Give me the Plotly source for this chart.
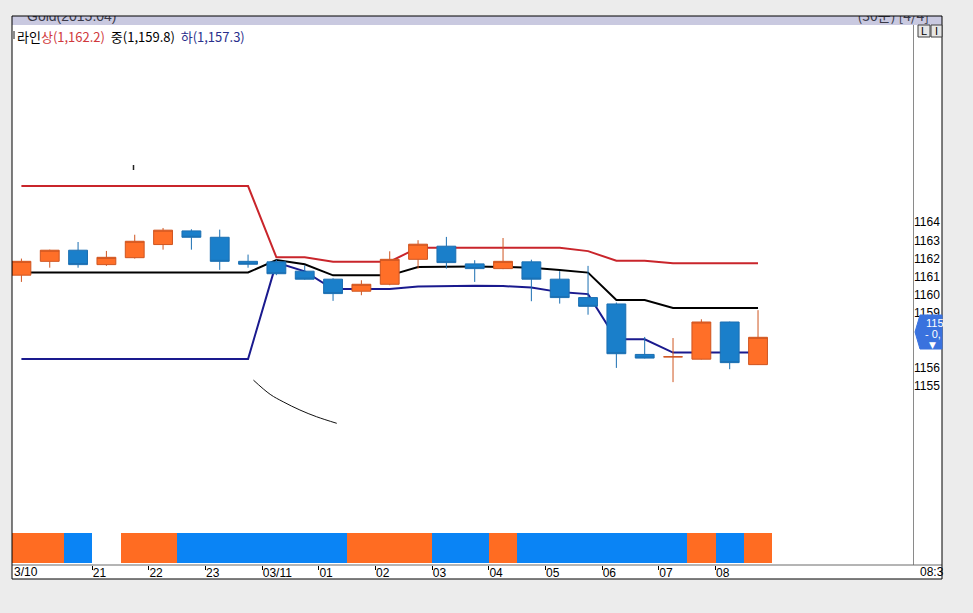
import plotly.graph_objects as go

# ---------------- data (30-minute bars, 2015-03-10 19:30 -> 2015-03-11 08:30) ----------------
bar_index = list(range(27))
open_ = [1161.55, 1162.31, 1162.92, 1162.13, 1162.51, 1163.23, 1163.98, 1163.63, 1162.31,
         1162.28, 1161.77, 1161.33, 1160.67, 1161.05, 1162.42, 1163.14, 1162.17, 1161.91,
         1162.28, 1161.33, 1160.32, 1159.97, 1157.20, 1157.07, 1156.94, 1158.98, 1156.64]
high = [1162.46, 1162.95, 1163.37, 1162.88, 1163.77, 1164.14, 1164.07, 1164.05, 1162.68,
        1162.40, 1162.09, 1161.38, 1161.27, 1162.86, 1163.47, 1163.65, 1162.37, 1163.59,
        1162.40, 1161.77, 1162.06, 1160.05, 1158.16, 1158.10, 1159.13, 1159.00, 1159.63]
low = [1161.18, 1161.96, 1161.96, 1162.06, 1162.46, 1162.95, 1162.95, 1161.84, 1161.96,
       1161.55, 1161.30, 1160.14, 1160.45, 1161.00, 1161.91, 1161.91, 1161.18, 1161.88,
       1160.12, 1159.99, 1159.38, 1156.46, 1156.98, 1155.68, 1156.92, 1156.39, 1156.62]
close = [1162.31, 1162.92, 1162.13, 1162.53, 1163.41, 1164.02, 1163.63, 1162.31, 1162.15,
         1161.63, 1161.33, 1160.54, 1161.05, 1162.42, 1163.25, 1162.24, 1161.91, 1162.31,
         1161.33, 1160.32, 1159.84, 1157.24, 1157.00, 1157.07, 1158.98, 1156.75, 1158.14]

upper = [1166.44] * 9 + [1162.53, 1162.53, 1162.29, 1162.29, 1162.29,
                         1163.06, 1163.06, 1163.06, 1163.06, 1163.06, 1163.06,
                         1162.87, 1162.34, 1162.34, 1162.2, 1162.2, 1162.2, 1162.2]
middle = [1161.70] * 9 + [1162.38, 1162.15, 1161.54, 1161.54, 1161.54,
                          1162.00, 1162.02, 1162.02, 1162.00, 1161.96, 1161.84,
                          1161.69, 1160.19, 1160.19, 1159.75, 1159.75, 1159.75, 1159.75]
lower = [1156.95] * 9 + [1162.24, 1161.76, 1160.79, 1160.79, 1160.79,
                         1160.93, 1160.97, 1160.97, 1160.95, 1160.87, 1160.62,
                         1160.51, 1158.03, 1158.03, 1157.3, 1157.3, 1157.3, 1157.3]

# bottom signal pane: 1 = orange, -1 = blue, 0 = none
signal = [1, 1, -1, 0, 1, 1, -1, -1, -1, -1, -1, -1, 1, 1, 1, -1, -1, 1,
          -1, -1, -1, -1, -1, -1, 1, -1, 1]

tick_pos = [2.5, 4.5, 6.5, 8.5, 10.5, 12.5, 14.5, 16.5, 18.5, 20.5, 22.5, 24.5]
tick_text = ["21", "22", "23", "03/11", "01", "02", "03", "04", "05", "06", "07", "08"]
price_ticks = [1155, 1156, 1159, 1160, 1161, 1162, 1163, 1164]

# hand-drawn trend curve on the chart
drawing_x = [8.19, 8.78, 9.24, 9.83, 10.42, 11.13]
drawing_y = [1155.79, 1155.01, 1154.60, 1154.15, 1153.78, 1153.42]

legend_upper = "1,162.2"
legend_mid = "1,159.8"
legend_lower = "1,157.3"

# ---------------- styling ----------------
ORANGE = "#ff6c22"
BLUE = "#0a84f5"
C_UP_FILL, C_UP_LINE = "#ff6f28", "#cf5520"
C_DN_FILL, C_DN_LINE = "#1a7fca", "#1b6fb2"
PAGE_BG = "#ececec"

W, H = 973, 613
ML, MR, MT, MB = 12, 31, 16, 48
PW, PH = W - ML - MR, H - MT - MB      # 930 x 549


def px(xp):
    return (xp - ML) / PW


def py(yp):
    return (H - MB - yp) / PH


XRANGE = [-0.332, 31.47]
YRANGE = [1147.40, 1175.28]
price_dom = [py(533), py(25)]
sig_dom = [0, py(533)]
title_dom = [py(25), 1]

fig = go.Figure()

# channel lines (main price subplot, drawn beneath candles)
fig.add_trace(go.Scatter(x=bar_index, y=upper, mode="lines",
                         line=dict(color="#c9252b", width=2), xaxis="x", yaxis="y"))
fig.add_trace(go.Scatter(x=bar_index, y=middle, mode="lines",
                         line=dict(color="#000000", width=2), xaxis="x", yaxis="y"))
fig.add_trace(go.Scatter(x=bar_index, y=lower, mode="lines",
                         line=dict(color="#1a1a8e", width=2), xaxis="x", yaxis="y"))
fig.add_trace(go.Scatter(x=drawing_x, y=drawing_y, mode="lines",
                         line=dict(color="#111111", width=1, shape="spline"),
                         xaxis="x", yaxis="y"))

# candles on overlay axis so they sit above the lines
fig.add_trace(go.Candlestick(
    x=bar_index, open=open_, high=high, low=low, close=close,
    increasing=dict(fillcolor=C_UP_FILL, line=dict(color=C_UP_LINE, width=1)),
    decreasing=dict(fillcolor=C_DN_FILL, line=dict(color=C_DN_LINE, width=1)),
    whiskerwidth=0, xaxis="x", yaxis="y4", hoverinfo="skip"))

# signal bars
sig_x = [i for i, s in zip(bar_index, signal) if s != 0]
sig_c = [ORANGE if s > 0 else BLUE for s in signal if s != 0]
fig.add_trace(go.Bar(x=sig_x, y=[1] * len(sig_x), width=1.0,
                     marker=dict(color=sig_c, line=dict(width=0)),
                     xaxis="x", yaxis="y2", hoverinfo="skip"))

# title bar text (clipped to the title strip)
fig.add_trace(go.Scatter(x=[15], y=[7.2], mode="text", text=["Gold(2015.04)"],
                         textposition="middle right",
                         textfont=dict(family="Liberation Sans", size=14, color="#3a3a48"),
                         xaxis="x3", yaxis="y3", hoverinfo="skip"))
fig.add_trace(go.Scatter(x=[917], y=[7.2], mode="text", text=["(30분) [4/4]"],
                         textposition="middle left",
                         textfont=dict(family="Noto Sans CJK KR", size=14, color="#3a3a48"),
                         xaxis="x3", yaxis="y3", hoverinfo="skip"))

shapes = [
    # white chart window
    dict(type="rect", xref="paper", yref="paper", x0=0, x1=1, y0=py(579), y1=1,
         fillcolor="white", line=dict(width=0), layer="below"),
    # title strip
    dict(type="rect", xref="paper", yref="paper", x0=0, x1=1, y0=py(25), y1=1,
         fillcolor="#c9c9e0", line=dict(width=0), layer="below"),
    # price axis separator
    dict(type="line", xref="paper", yref="paper", x0=px(913.5), x1=px(913.5),
         y0=py(565), y1=py(25), line=dict(color="#8a8a8a", width=1)),
    # time axis line
    dict(type="line", xref="paper", yref="paper", x0=0, x1=1,
         y0=py(565), y1=py(565), line=dict(color="#6a6a6a", width=1)),
    # window border
    dict(type="rect", xref="paper", yref="paper", x0=0, x1=1, y0=py(579), y1=1,
         line=dict(color="#000000", width=1), fillcolor="rgba(0,0,0,0)", layer="above"),
    # legend marker
    dict(type="rect", xref="paper", yref="paper", x0=px(12.5), x1=px(15),
         y0=py(39), y1=py(31), fillcolor="#8c8c8c", line=dict(width=0)),
    # little mark
    dict(type="line", xref="paper", yref="paper", x0=px(133.5), x1=px(133.5),
         y0=py(170), y1=py(165), line=dict(color="#222222", width=1.5)),
    # L / I buttons
    dict(type="rect", xref="paper", yref="paper", x0=px(918), x1=px(930),
         y0=py(37), y1=py(25), fillcolor="#e6e6e6", line=dict(color="#404040", width=1)),
    dict(type="rect", xref="paper", yref="paper", x0=px(931), x1=px(942),
         y0=py(37), y1=py(25), fillcolor="#e6e6e6", line=dict(color="#404040", width=1)),
    # current price marker
    dict(type="path", xref="paper", yref="paper",
         path=(f"M {px(915)},{py(332)} L {px(920)},{py(315)} L 1,{py(315)} "
               f"L 1,{py(349)} L {px(920)},{py(349)} Z"),
         fillcolor="#3a72de", line=dict(color="#3a72de", width=1), layer="above"),
]

annotations = [
    dict(xref="paper", yref="paper", x=px(15), y=py(36.5), xanchor="left", yanchor="middle",
         showarrow=False,
         font=dict(family="Noto Sans CJK KR", size=13, color="#000000"),
         text=(f"라인<span style='color:#d0383c'>상({legend_upper})</span>&nbsp;&nbsp;"
               f"중({legend_mid})&nbsp;&nbsp;"
               f"<span style='color:#2a2f8c'>하({legend_lower})</span>")),
    dict(xref="paper", yref="paper", x=px(12), y=py(572), xanchor="left", yanchor="middle",
         showarrow=False, text="3/10",
         font=dict(family="Liberation Sans Narrow, Liberation Sans", size=12, color="#000")),
    dict(xref="paper", yref="paper", x=px(918), y=py(572), xanchor="left", yanchor="middle",
         showarrow=False, text="08:3",
         font=dict(family="Liberation Sans Narrow, Liberation Sans", size=12, color="#000")),
    dict(xref="paper", yref="paper", x=px(924), y=py(31), xanchor="center", yanchor="middle",
         showarrow=False, text="L", font=dict(family="Liberation Sans", size=11, color="#000")),
    dict(xref="paper", yref="paper", x=px(936.5), y=py(31), xanchor="center", yanchor="middle",
         showarrow=False, text="I", font=dict(family="Liberation Sans", size=11, color="#000")),
    dict(xref="paper", yref="paper", x=px(924), y=py(323), xanchor="left", yanchor="middle",
         showarrow=False, text="115", font=dict(family="Liberation Sans", size=11, color="#ffffff")),
    dict(xref="paper", yref="paper", x=px(923), y=py(334.5), xanchor="left", yanchor="middle",
         showarrow=False, text="- 0,", font=dict(family="Liberation Sans", size=11, color="#ffffff")),
    dict(xref="paper", yref="paper", x=px(932.5), y=py(344.5), xanchor="center", yanchor="middle",
         showarrow=False, text="▼", font=dict(family="DejaVu Sans", size=9, color="#ffffff")),
]

fig.update_layout(
    width=W, height=H,
    margin=dict(l=ML, r=MR, t=MT, b=MB, pad=0),
    paper_bgcolor=PAGE_BG, plot_bgcolor="rgba(0,0,0,0)",
    showlegend=False, bargap=0, boxgap=0.05,
    shapes=shapes, annotations=annotations,
    xaxis=dict(domain=[0, px(913)], range=XRANGE, anchor="y2",
               rangeslider=dict(visible=False),
               tickmode="array", tickvals=tick_pos, ticktext=tick_text,
               ticks="outside", ticklen=4, tickcolor="#000000", tickwidth=1,
               ticklabelposition="outside right", ticklabelstandoff=-3,
               tickfont=dict(family="Liberation Sans Narrow, Liberation Sans", size=12,
                             color="#000000"),
               showgrid=False, zeroline=False, showline=False, fixedrange=True),
    yaxis=dict(domain=price_dom, range=YRANGE, anchor="x", side="right",
               tickmode="array", tickvals=price_ticks,
               ticklabelposition="outside top", ticks="",
               tickfont=dict(family="Liberation Sans", size=12, color="#000000"),
               showgrid=False, zeroline=False, showline=False, fixedrange=True),
    yaxis4=dict(range=YRANGE, overlaying="y", anchor="x", visible=False,
                showgrid=False, zeroline=False, fixedrange=True),
    yaxis2=dict(domain=sig_dom, range=[-0.0667, 1.0], anchor="x", visible=False,
                showgrid=False, zeroline=False, fixedrange=True),
    xaxis3=dict(domain=[0, 1], range=[0, PW], anchor="y3", visible=False,
                showgrid=False, zeroline=False, fixedrange=True),
    yaxis3=dict(domain=title_dom, range=[0, 9], anchor="x3", visible=False,
                showgrid=False, zeroline=False, fixedrange=True),
)

fig.write_html(
    "out.html",
    config={"displayModeBar": False},
    post_script=("document.body.style.margin='0';"
                 "document.body.style.background='" + PAGE_BG + "';"
                 "document.documentElement.style.background='" + PAGE_BG + "';"),
)
